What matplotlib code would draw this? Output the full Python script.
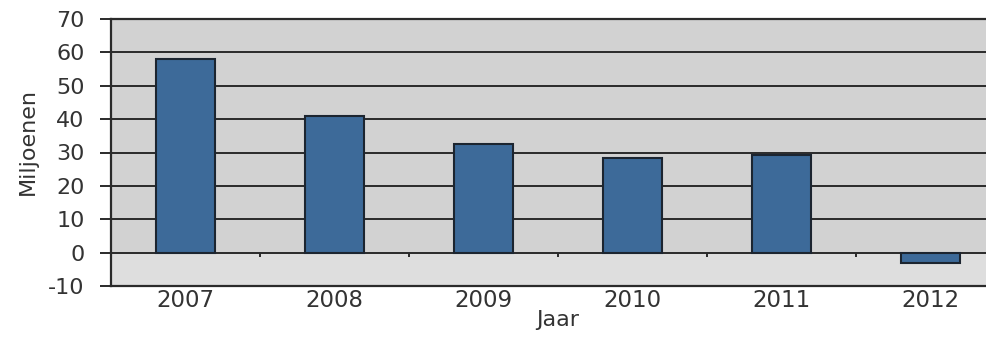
import numpy as np
import matplotlib.pyplot as plt

plt.rcParams["axes.unicode_minus"] = False

## data
years = ["2007", "2008", "2009", "2010", "2011", "2012"]
values = [58, 41, 32.5, 28.5, 29.3, -3]
yticks = [-10, 0, 10, 20, 30, 40, 50, 60, 70]

## style
bar_color = "#3d6a99"
edge_color = "#1c2530"
bg_color = "#d2d2d2"
low_color = "#dedede"
line_color = "#2a2a2a"
text_color = "#333333"

fig = plt.figure(figsize=(9.87, 3.42), dpi=100)
# axes run past the right edge like in the scan
ax = fig.add_axes([111 / 987, 56 / 342, 894 / 987, 267 / 342])

x = np.arange(len(years))
ax.set_facecolor(bg_color)
ax.axhspan(yticks[0], 0, color=low_color, zorder=0)

# grid lines
for y in yticks[1:-1]:
    ax.axhline(y, color=line_color, lw=1.4, zorder=1)

ax.bar(x, values, width=0.4, color=bar_color, edgecolor=edge_color,
       linewidth=1.5, zorder=3)

# small ticks on the zero line between categories
bounds = x[:-1] + 0.5
ax.vlines(bounds, 0, -1.3, color=line_color, lw=1.4, zorder=2)

ax.set_xlim(-0.5, len(years) - 0.5)
ax.set_ylim(yticks[0], yticks[-1])
ax.set_yticks(yticks)
ax.set_xticks(x)
ax.set_xticklabels(years)

for s in ["left", "bottom", "top"]:
    ax.spines[s].set_color(line_color)
    ax.spines[s].set_linewidth(1.6)
ax.spines["right"].set_visible(False)

ax.tick_params(axis="y", length=8, width=1.4, color=line_color,
               labelsize=16, labelcolor=text_color, pad=11)
ax.tick_params(axis="x", length=0, labelsize=16.5, labelcolor=text_color, pad=2)

ax.set_ylabel("Miljoenen", fontsize=16, color=text_color)
ax.yaxis.set_label_coords(-0.082, 0.54)
ax.set_xlabel("Jaar", fontsize=16, color=text_color, labelpad=-1)

fig.savefig("out.png", dpi=100)
